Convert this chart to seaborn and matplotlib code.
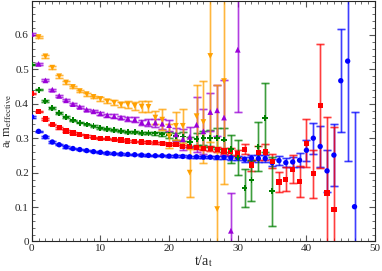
import numpy as np
import pandas as pd
import matplotlib
matplotlib.use("Agg")
import matplotlib.pyplot as plt
import seaborn as sns
from matplotlib.ticker import MultipleLocator

# effective mass data (t, value, error)
blue_t = list(range(0, 48))
blue_m = [0.362, 0.320, 0.304, 0.289, 0.281, 0.275, 0.270, 0.267, 0.264, 0.261,
          0.259, 0.2565, 0.255, 0.254, 0.253, 0.252, 0.251, 0.250, 0.249, 0.249,
          0.248, 0.248, 0.247, 0.246, 0.246, 0.245, 0.245, 0.244, 0.244, 0.243,
          0.243, 0.239, 0.242, 0.241, 0.241, 0.229, 0.235, 0.229, 0.231, 0.236,
          0.265, 0.300, 0.276, 0.205, 0.251, 0.467, 0.524, 0.101]
blue_e = [0.002] * 20 + [0.003] * 8 + [0.004, 0.005, 0.006, 0.007, 0.008, 0.009,
          0.010, 0.011, 0.012, 0.013, 0.014, 0.020, 0.030, 0.045, 0.06, 0.06,
          0.09, 0.15, 0.29, 0.275]

red_t = list(range(0, 45))
red_m = [0.430, 0.378, 0.356, 0.340, 0.330, 0.321, 0.315, 0.311, 0.306, 0.302,
         0.300, 0.300, 0.297, 0.295, 0.292, 0.290, 0.289, 0.288, 0.287, 0.285,
         0.282, 0.282, 0.277, 0.275, 0.273, 0.270, 0.270, 0.267, 0.263, 0.262,
         0.254, 0.268, 0.222, 0.258, 0.260, 0.233, 0.173, 0.181, 0.210, 0.175,
         0.285, 0.197, 0.394, 0.141, 0.093]
red_e = [0.002] * 16 + [0.003] * 8 + [0.004, 0.005, 0.006, 0.007, 0.008, 0.010,
         0.012, 0.014, 0.016, 0.020, 0.022, 0.020, 0.030, 0.035, 0.040, 0.045,
         0.070, 0.070, 0.180, 0.220, 0.240]

green_t = list(range(0, 36))
green_m = [0.514, 0.441, 0.408, 0.388, 0.373, 0.362, 0.352, 0.345, 0.340, 0.335,
           0.330, 0.327, 0.324, 0.320, 0.318, 0.317, 0.316, 0.315, 0.314, 0.311,
           0.309, 0.306, 0.305, 0.289, 0.297, 0.300, 0.300, 0.300, 0.296, 0.268,
           0.244, 0.156, 0.178, 0.276, 0.359, 0.146]
green_e = [0.002] * 12 + [0.003] * 6 + [0.005, 0.006, 0.008, 0.010, 0.012, 0.015,
           0.018, 0.020, 0.025, 0.030, 0.035, 0.040, 0.050, 0.055, 0.060, 0.070,
           0.100, 0.100]

purple_t = list(range(0, 31))
purple_m = [0.603, 0.516, 0.468, 0.441, 0.423, 0.410, 0.399, 0.391, 0.383, 0.378,
            0.372, 0.367, 0.364, 0.360, 0.357, 0.354, 0.346, 0.345, 0.345, 0.342,
            0.338, 0.311, 0.297, 0.304, 0.339, 0.320, 0.376, 0.381, 0.360, 0.031,
            0.557]
purple_e = [0.003] * 10 + [0.004, 0.004, 0.005, 0.005, 0.006, 0.007, 0.008,
            0.010, 0.012, 0.014, 0.016, 0.020, 0.030, 0.030, 0.080, 0.065,
            0.056, 0.075, 0.110, 0.110, 0.180]

orange_t = list(range(1, 29))
orange_m = [0.594, 0.538, 0.505, 0.480, 0.462, 0.449, 0.437, 0.428, 0.420, 0.414,
            0.407, 0.403, 0.398, 0.398, 0.394, 0.392, 0.391, 0.360, 0.354, 0.306,
            0.336, 0.336, 0.200, 0.364, 0.347, 0.539, 0.094, 0.466]
orange_e = [0.004] * 9 + [0.005, 0.006, 0.007, 0.008, 0.010, 0.012, 0.015,
            0.016, 0.020, 0.030, 0.035, 0.040, 0.050, 0.070, 0.090, 0.120,
            0.250, 0.360, 0.300]

series = [
    ("blue", blue_t, blue_m, blue_e, "#0000ff", "o", 15),
    ("red", red_t, red_m, red_e, "#ff0000", "s", 14),
    ("green", green_t, green_m, green_e, "#008000", "P", 17),
    ("purple", purple_t, purple_m, purple_e, "#9a00d8", "^", 17),
    ("orange", orange_t, orange_m, orange_e, "#ffa000", "v", 17),
]

frames = []
for name, t, m, e, c, mk, s in series:
    frames.append(pd.DataFrame({"t": t, "m": m, "err": e, "set": name}))
df = pd.concat(frames, ignore_index=True)

sns.set_style("ticks")
plt.rcParams["font.family"] = ["Liberation Serif", "DejaVu Serif"]
plt.rcParams["mathtext.fontset"] = "stix"

fig = plt.figure(figsize=(3.82, 2.71), dpi=100)
ax = fig.add_axes([0.083, 0.109, 0.899, 0.889])

for name, t, m, e, c, mk, s in series:
    sub = df[df["set"] == name]
    # light wide band plus thin darker line, like the original
    ax.errorbar(sub["t"], sub["m"], yerr=sub["err"], fmt="none", ecolor=c,
                alpha=0.35, elinewidth=1.8, capsize=2.6, capthick=1.8, zorder=2)
    ax.errorbar(sub["t"], sub["m"], yerr=sub["err"], fmt="none", ecolor=c,
                alpha=0.75, elinewidth=0.6, capsize=2.6, capthick=0.6, zorder=2)
    sns.scatterplot(data=sub, x="t", y="m", color=c, marker=mk, s=s,
                    edgecolor="none", ax=ax, zorder=3, legend=False)

ax.set_xlim(0, 50)
ax.set_ylim(0, 0.7)
ax.xaxis.set_major_locator(MultipleLocator(10))
ax.xaxis.set_minor_locator(MultipleLocator(1))
ax.yaxis.set_minor_locator(MultipleLocator(0.02))
ax.set_yticks([0, 0.1, 0.2, 0.3, 0.4, 0.5, 0.6])
ax.set_yticklabels(["0", "0.1", "0.2", "0.3", "0.4", "0.5", "0.6"])
ax.tick_params(which="both", direction="in", top=True, right=True,
               labelsize=8, pad=2, color="#555555")
ax.tick_params(which="major", length=4, width=0.8)
ax.tick_params(which="minor", length=2, width=0.6)
for sp in ax.spines.values():
    sp.set_linewidth(0.8)

ax.set_xlabel(r"t/a$_\mathrm{t}$", fontsize=10, labelpad=0)
ax.set_ylabel(r"a$_\mathrm{t}$ m$_\mathrm{effective}$", fontsize=9, labelpad=1)

fig.savefig("out.png", dpi=100)
